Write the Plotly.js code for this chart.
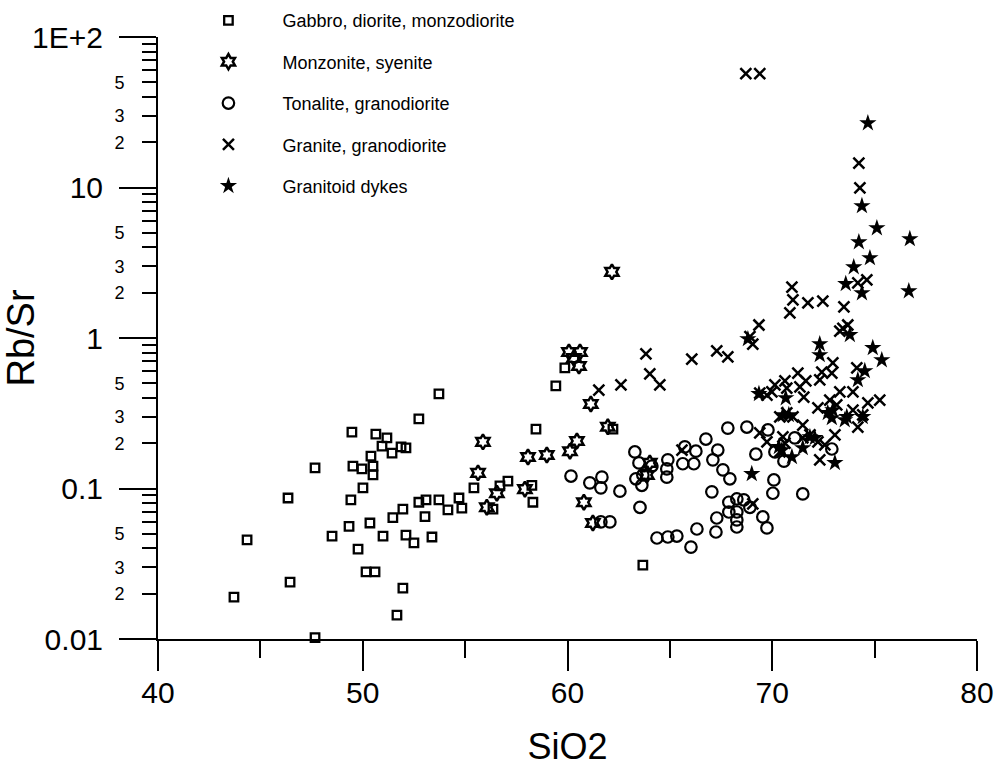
<!DOCTYPE html>
<html><head><meta charset="utf-8">
<script src="https://cdn.plot.ly/plotly-3.0.1.min.js"></script>
<style>html,body{margin:0;padding:0;background:#fff}</style>
</head><body>
<div id="chart" style="width:1005px;height:775px"></div>
<script>
// ---- Data ----
var gabbroSiO2 = [53.72,52.74,49.47,50.64,51.18,50.94,51.43,51.87,52.11,50.40,47.67,49.52,49.96,50.50,50.50,50.01,46.35,49.42,52.74,53.09,53.72,54.16,51.96,51.47,53.04,49.33,50.35,44.35,48.50,50.99,52.11,52.50,53.38,49.77,50.16,50.60,46.45,51.96,43.71,51.67,46.64,47.67,59.87,59.43,58.46,62.22,55.43,57.09,56.70,58.26,58.31,56.36,54.70,54.84,63.68];
var gabbroRbSr = [0.425,0.29,0.237,0.23,0.217,0.191,0.172,0.189,0.186,0.164,0.137,0.141,0.135,0.141,0.123,0.101,0.0865,0.084,0.081,0.084,0.084,0.072,0.073,0.064,0.065,0.056,0.059,0.0455,0.0483,0.0483,0.049,0.0435,0.0476,0.0396,0.0279,0.0279,0.0239,0.0218,0.019,0.0144,0.0091,0.0102,0.633,0.48,0.248,0.248,0.101,0.112,0.104,0.105,0.081,0.073,0.0865,0.074,0.031];

var monzSiO2 = [62.17,60.07,60.61,60.31,60.56,61.14,61.97,55.87,58.07,58.99,60.12,60.46,55.63,56.55,56.06,57.92,60.80,61.24,64.02,63.88];
var monzRbSr = [2.75,0.807,0.807,0.736,0.652,0.364,0.257,0.204,0.162,0.167,0.177,0.207,0.127,0.093,0.075,0.099,0.081,0.059,0.148,0.123];

var tonSiO2 = [60.17,61.09,61.68,61.63,62.56,63.29,63.49,63.34,63.63,63.54,61.63,62.07,64.12,64.90,64.85,64.85,65.73,66.27,66.76,65.63,66.17,67.83,67.34,67.10,67.59,67.93,67.05,64.37,64.90,65.34,66.32,66.03,67.29,67.25,67.88,68.27,68.61,68.91,67.88,68.27,68.27,68.27,68.76,69.79,69.20,70.13,71.10,70.57,72.91,70.08,70.03,71.49,69.54,69.74,63.68];
var tonRbSr = [0.121,0.109,0.119,0.101,0.096,0.175,0.148,0.116,0.105,0.075,0.060,0.060,0.141,0.155,0.135,0.119,0.189,0.177,0.213,0.146,0.146,0.252,0.180,0.155,0.133,0.116,0.095,0.0469,0.0476,0.0483,0.0538,0.0408,0.0637,0.0514,0.081,0.0852,0.084,0.075,0.0698,0.0698,0.0618,0.0555,0.256,0.245,0.169,0.175,0.217,0.152,0.183,0.114,0.093,0.092,0.0647,0.0547,0.123];

var graniteSiO2 = [68.71,69.39,74.23,74.28,70.96,71.01,70.86,71.74,72.47,73.50,74.18,74.62,73.45,73.69,69.35,68.91,69.05,67.29,67.83,66.07,63.83,64.02,64.51,61.53,62.61,73.30,72.96,74.13,72.42,72.91,72.32,71.25,71.64,71.35,71.54,70.62,70.71,70.13,69.98,69.74,69.39,73.30,73.94,75.25,74.67,72.81,73.15,72.23,73.94,74.42,74.18,70.37,70.71,71.01,71.49,69.39,69.74,70.52,70.62,71.49,71.84,73.06,72.23,72.57,70.37,72.32,69.05,65.59];
var graniteRbSr = [57,57,14.5,9.93,2.18,1.79,1.47,1.71,1.76,1.61,2.32,2.43,1.16,1.22,1.22,1.02,0.912,0.82,0.748,0.725,0.784,0.577,0.488,0.451,0.488,1.11,0.683,0.632,0.594,0.585,0.526,0.585,0.518,0.473,0.405,0.518,0.465,0.488,0.438,0.418,0.431,0.438,0.438,0.387,0.370,0.387,0.359,0.343,0.332,0.308,0.256,0.299,0.318,0.299,0.264,0.234,0.204,0.220,0.200,0.217,0.227,0.227,0.204,0.195,0.175,0.155,0.079,0.180];

var dykeSiO2 = [74.67,74.38,75.11,74.23,76.72,74.77,73.98,73.59,74.38,76.67,72.32,72.32,74.91,75.35,73.79,68.81,74.52,74.18,69.35,70.66,72.71,72.96,72.91,73.54,73.64,74.42,70.52,70.81,71.84,72.08,70.32,70.47,70.96,71.49,73.06,69.00];
var dykeRbSr = [26.8,7.54,5.38,4.34,4.55,3.40,2.96,2.29,1.99,2.05,0.912,0.771,0.859,0.714,1.05,0.985,0.604,0.526,0.425,0.399,0.318,0.332,0.294,0.285,0.299,0.299,0.308,0.308,0.220,0.217,0.189,0.180,0.162,0.186,0.148,0.125];

var seriesNames = ['Gabbro, diorite, monzodiorite','Monzonite, syenite','Tonalite, granodiorite','Granite, granodiorite','Granitoid dykes'];

var xTickVals = [40,50,60,70,80];
var xMinorVals = [45,55,65,75];
var yTickVals = [0.01,0.1,1,10,100];
var yTickText = ['0.01','0.1','1','10','1E+2'];
var yMinorMult = [2,3,4,5,6,7,8,9];
var yMinorLabel = ['2','3','','5','','','',''];

// ---- Build minor tick arrays from the tick labels above ----
var yMinorVals = [], yMinorText = [];
[0.01,0.1,1,10].forEach(function(dec){
  yMinorMult.forEach(function(m,i){ yMinorVals.push(dec*m); yMinorText.push(yMinorLabel[i]); });
});

var FONT = 'Liberation Sans, Arial, sans-serif';
function tr(x,y,name,symbol,size,lw,grp){
  return {x:x,y:y,name:name,type:'scatter',mode:'markers',cliponaxis:false,legendgroup:grp,
    marker:{symbol:symbol,size:size,color:'black',line:{color:'black',width:lw}}};
}
var data = [
  tr(gabbroSiO2,gabbroRbSr,seriesNames[0],'square-open',8.5,2.3,'g1'),
  tr(monzSiO2,monzRbSr,seriesNames[1],'hexagram-open',11.5,2.5,'g2'),
  tr(tonSiO2,tonRbSr,seriesNames[2],'circle-open',11.5,2.2,'g3'),
  tr(graniteSiO2,graniteRbSr,seriesNames[3],'x-thin-open',11,2.5,'g4'),
  tr(dykeSiO2,dykeRbSr,seriesNames[4],'star',13,0,'g5'),
  // empty trace that only carries the minor-tick axis (yaxis2)
  {x:[],y:[],type:'scatter',mode:'markers',yaxis:'y2',showlegend:false,hoverinfo:'skip'}
];

var layout = {
  width:1005, height:775,
  margin:{l:158,r:0,t:37,b:136},
  paper_bgcolor:'white', plot_bgcolor:'white',
  font:{family:FONT,color:'black'},
  showlegend:true,
  legend:{x:0.0194,y:1.058,xanchor:'left',yanchor:'top',font:{size:18,family:FONT},
    bgcolor:'rgba(0,0,0,0)',itemwidth:98,tracegroupgap:15,traceorder:'grouped',itemclick:false},
  xaxis:{domain:[0,0.96694],range:[40,80],showline:true,linewidth:2,linecolor:'black',mirror:false,
    showgrid:false,zeroline:false,ticks:'outside',tickmode:'array',tickvals:xTickVals,
    ticklen:30,tickwidth:2,tickcolor:'black',tickfont:{size:30,family:FONT},ticklabelstandoff:-4,
    minor:{tickmode:'array',tickvals:xMinorVals,ticks:'outside',ticklen:17,tickwidth:2,tickcolor:'black',showgrid:false},
    title:{text:'SiO2',font:{size:36,family:FONT},standoff:26}},
  yaxis:{type:'log',range:[-2,2],showline:true,linewidth:2,linecolor:'black',
    showgrid:false,zeroline:false,ticks:'outside',tickmode:'array',tickvals:yTickVals,ticktext:yTickText,
    ticklen:37,tickwidth:2,tickcolor:'black',tickfont:{size:30,family:FONT},ticklabelstandoff:10,
    title:{text:'Rb/Sr',font:{size:38,family:FONT},standoff:1}},
  yaxis2:{type:'log',range:[-2,2],overlaying:'y',side:'left',anchor:'x',showline:false,
    showgrid:false,zeroline:false,ticks:'outside',tickmode:'array',tickvals:yMinorVals,ticktext:yMinorText,
    ticklen:15,tickwidth:2,tickcolor:'black',tickfont:{size:18,family:FONT},ticklabelstandoff:14}
};
Plotly.newPlot('chart',data,layout,{displayModeBar:false,staticPlot:true});
</script></body></html>
